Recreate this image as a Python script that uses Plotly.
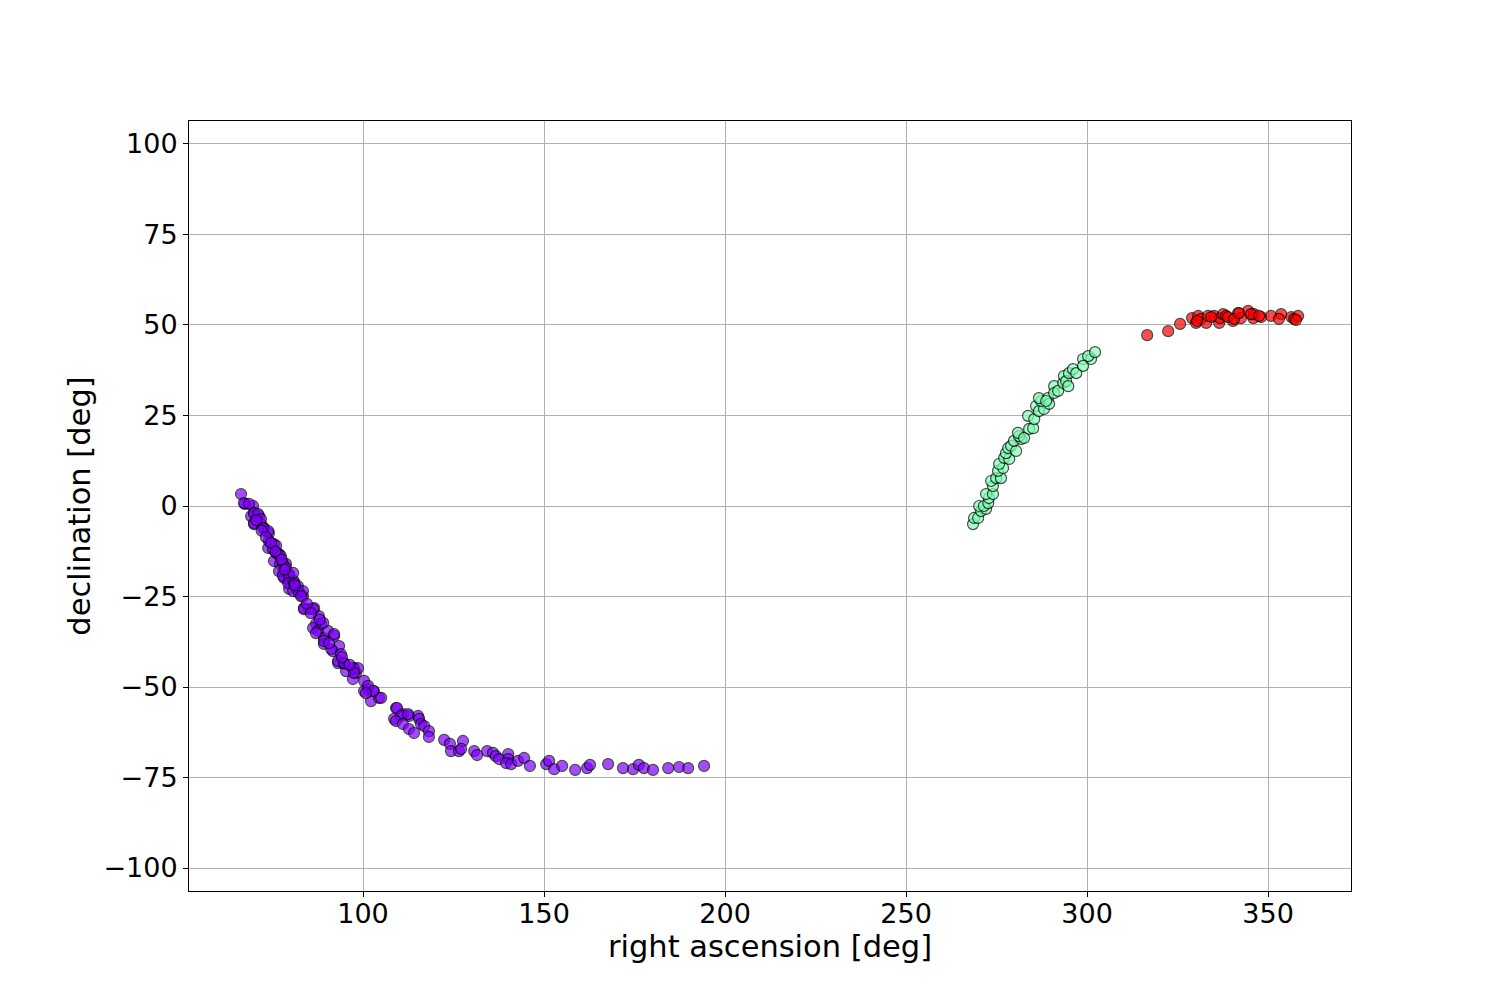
import plotly.graph_objects as go

# cluster 1 (purple)
ra_1 = [66.3, 67.4, 69.6, 69.9, 71.3, 69.9, 71.8, 72.7, 74.0, 73.8, 75.4, 76.0, 76.8, 75.4, 77.1,
        78.7, 77.9, 78.2, 79.6, 79.6, 80.9, 79.6, 81.5, 82.3, 83.4, 83.7, 85.1, 86.5, 87.8, 87.0,
        86.2, 87.6, 88.4, 89.2, 90.3, 92.0, 89.2, 91.7, 93.4, 93.9, 93.1, 94.8, 95.3, 97.5, 98.1,
        97.2, 100.3, 101.4, 103.0, 102.2, 104.4, 100.3, 109.1, 111.0, 112.7, 108.6, 115.2,
        105.0, 109.4, 110.5, 112.4, 109.1, 111.0, 112.7, 114.1, 115.5, 116.0, 116.9, 118.2, 118.2,
        122.4, 124.0, 124.3, 126.5, 127.6, 127.1, 130.7, 131.5, 134.3, 135.9, 136.7, 137.6, 140.1,
        140.1, 139.5, 140.9, 142.8, 144.5, 146.1, 150.6, 151.4, 152.8, 155.0, 158.6, 161.9, 162.7,
        167.7, 171.8, 174.6, 176.2, 177.6, 180.1, 184.3, 187.3, 189.8, 194.2,
        67.1, 68.5, 69.1, 69.9, 71.0, 69.9, 71.8, 72.4, 73.8, 74.0, 75.1, 76.0, 76.5, 77.3, 77.9,
        76.8, 78.7, 77.9, 79.6, 80.7, 79.3, 80.9, 82.0, 80.7, 82.3, 83.4,
        82.9, 83.7, 86.2, 89.0, 92.0, 87.0, 89.2, 91.2, 93.1, 94.8, 97.2, 98.6, 97.5, 101.4, 102.8,
        100.8, 70.5, 72.0, 73.2, 74.6, 75.8, 77.5, 78.4, 81.2, 84.5, 85.6, 88.0, 90.6, 94.2, 96.3]
dec_1 = [3.3, 0.6, 0.0, -2.2, -2.8, -5.0, -5.0, -6.1, -7.5, -11.6, -10.5, -13.0, -13.3, -15.2, -16.0,
         -16.0, -18.5, -19.9, -18.8, -20.7, -20.7, -22.9, -22.7, -23.5, -24.9, -28.2, -28.5, -28.2, -30.4, -32.6,
         -33.7, -34.5, -32.6, -36.5, -34.5, -35.9, -38.1, -40.1, -38.7, -40.9, -43.4, -43.6, -45.6, -44.8, -46.1,
         -47.8, -48.3, -50.6, -51.1, -53.9, -53.0, -51.1, -55.8, -57.5, -58.0, -58.8, -58.0,
         -53.0, -55.8, -58.0, -57.5, -59.4, -60.2, -61.6, -62.7, -58.8, -60.2, -60.8, -62.2, -63.8,
         -64.6, -65.7, -67.7, -67.7, -64.9, -67.1, -67.7, -68.8, -67.7, -68.2, -69.1, -69.9, -68.5,
         -69.9, -71.0, -71.3, -70.4, -69.6, -71.8, -71.3, -70.4, -72.7, -71.8, -72.9, -72.4, -71.5,
         -71.3, -72.4, -72.7, -71.5, -72.4, -72.9, -72.4, -72.1, -72.4, -71.8,
         0.8, 0.6, -2.8, -1.9, -2.2, -4.7, -3.6, -6.1, -6.9, -9.7, -11.9, -11.0, -13.3, -13.8, -16.0,
         -18.0, -17.1, -19.3, -19.3, -18.5, -21.3, -21.3, -22.1, -23.5, -24.0, -23.5,
         -24.9, -28.5, -28.5, -32.3, -35.4, -35.1, -37.3, -39.5, -42.8, -43.4, -44.8, -44.8, -46.1, -49.7, -51.1,
         -51.7, -3.9, -6.8, -8.6, -10.2, -12.6, -14.8, -17.6, -21.9, -27.0, -29.6, -31.4, -37.9, -41.8, -43.9]

# cluster 2 (green)
ra_2 = [268.5, 268.8, 269.9, 270.7, 272.1, 270.2, 271.5, 272.7, 272.9, 272.1, 274.0, 274.0, 273.5,
        274.9, 276.2, 275.4, 276.8, 275.7, 277.1, 278.5, 277.6, 278.2, 279.0, 280.4, 279.8, 281.8,
        281.2, 280.9, 282.6, 284.0, 285.1, 283.7, 285.4, 285.9, 286.7, 288.1, 287.3, 286.7, 289.2,
        289.5, 288.7, 290.9, 290.9, 292.0, 293.4, 293.6, 294.2, 294.8, 295.0, 296.1, 297.0, 298.9,
        298.9, 301.1, 300.3, 302.2]
dec_2 = [-5.0, -3.3, -3.3, -1.4, -0.8, 0.0, 0.0, 0.8, 2.2, 3.3, 3.3, 5.5, 6.9,
         7.7, 7.7, 9.7, 10.5, 11.6, 13.3, 13.0, 14.6, 16.0, 16.6, 15.2, 18.0, 18.5,
         19.3, 20.2, 18.8, 21.3, 21.5, 24.9, 24.0, 27.6, 26.2, 26.8, 29.0, 29.8, 29.8,
         28.2, 29.0, 33.1, 31.2, 31.8, 34.0, 35.9, 34.5, 33.1, 36.7, 37.8, 36.7, 40.6,
         38.7, 40.6, 41.4, 42.5]

# cluster 3 (red)
ra_3 = [316.6, 322.4, 325.7, 329.0, 330.1, 330.7, 331.5, 332.9, 333.4, 335.1, 336.5, 336.7, 337.6,
        338.4, 340.3, 341.7, 342.5, 344.5, 345.9, 346.1, 348.1, 350.8, 353.6, 353.0, 356.4, 357.2,
        358.3, 357.7, 330.4, 334.3, 338.9, 340.6, 342.0, 345.3, 347.5]
dec_3 = [47.2, 48.3, 50.3, 51.9, 50.6, 52.5, 51.7, 50.6, 52.5, 52.5, 50.6, 51.9, 53.0,
         52.5, 51.1, 53.3, 51.9, 53.9, 51.9, 53.0, 52.2, 52.5, 53.0, 51.7, 52.2, 51.7,
         52.5, 51.4, 51.1, 52.2, 52.2, 51.7, 53.3, 53.0, 52.5]

x_ticks = [100, 150, 200, 250, 300, 350]
y_ticks = [-100, -75, -50, -25, 0, 25, 50, 75, 100]

font = "DejaVu Sans, sans-serif"

fig = go.Figure()
for ra, dec, col in [(ra_1, dec_1, "#8000ff"), (ra_2, dec_2, "#80ffb4"), (ra_3, dec_3, "#ff0000")]:
    fig.add_trace(go.Scatter(x=ra, y=dec, mode="markers",
                             marker=dict(size=11, color=col, opacity=0.7,
                                         line=dict(color="black", width=1.2))))

fig.update_layout(
    width=1500, height=1000,
    margin=dict(l=181, r=157, t=113, b=117),
    plot_bgcolor="white", paper_bgcolor="white",
    showlegend=False,
    font=dict(family=font, size=27, color="black"),
)
fig.update_xaxes(
    range=[51.93, 372.9], tickvals=x_ticks, ticktext=[str(v) for v in x_ticks],
    showline=True, mirror=True, linecolor="black", linewidth=1,
    ticks="outside", ticklen=5, tickcolor="black", ticklabelstandoff=-6,
    showgrid=True, gridcolor="#b0b0b0", gridwidth=1, zeroline=False,
    title=dict(text="right ascension [deg]", standoff=3,
               font=dict(family=font, size=30.5, color="black")),
    automargin=False,
)
fig.update_yaxes(
    range=[-106.35, 106.35], tickvals=y_ticks,
    ticktext=[str(v).replace("-", "\u2212") for v in y_ticks],
    showline=True, mirror=True, linecolor="black", linewidth=1,
    ticks="outside", ticklen=5, tickcolor="black",
    showgrid=True, gridcolor="#b0b0b0", gridwidth=1, zeroline=False,
    title=dict(text="declination [deg]", standoff=3,
               font=dict(family=font, size=30.5, color="black")),
    automargin=False,
)

fig.write_html("out.html")
